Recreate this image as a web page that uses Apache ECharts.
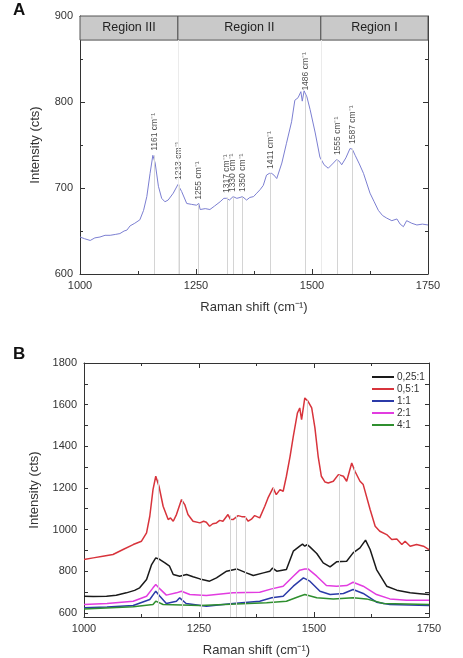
<!DOCTYPE html>
<html>
<head>
<meta charset="utf-8">
<title>Raman spectra</title>
<script src="https://cdn.jsdelivr.net/npm/echarts@6/dist/echarts.min.js"></script>
<style>
  html, body { margin: 0; padding: 0; background: #fff; }
  #chart { width: 463px; height: 658px; }
</style>
</head>
<body>
<div id="chart"></div>
<script>
// panel A: single spectrum [shift, intensity]
const spectrumA = [[1000,643],[1010,641],[1022,639],[1032,642],[1043,643],[1054,645],[1065,645],[1076,646],[1086,647],[1095,650],[1101,651],[1108,656],[1118,659],[1129,663],[1137,674],[1144,690],[1151,717],[1157,738],[1162,729],[1169,702],[1176,688],[1183,684],[1190,686],[1194,685],[1201,694],[1211,704],[1219,696],[1230,682],[1240,681],[1251,680],[1256,682],[1259,675],[1270,676],[1280,675],[1290,679],[1302,684],[1310,688],[1316,688],[1322,686],[1330,690],[1338,688],[1345,689],[1350,690],[1359,686],[1366,689],[1374,690],[1381,694],[1388,698],[1395,703],[1402,715],[1408,717],[1413,717],[1418,715],[1424,711],[1435,729],[1445,752],[1456,777],[1463,802],[1470,805],[1476,812],[1479,801],[1483,813],[1489,806],[1496,791],[1507,764],[1517,736],[1526,727],[1535,723],[1546,729],[1553,733],[1559,731],[1564,727],[1573,735],[1582,746],[1587,745],[1593,738],[1602,728],[1611,717],[1625,694],[1634,684],[1643,674],[1652,668],[1661,665],[1672,662],[1683,664],[1690,658],[1697,655],[1704,662],[1715,659],[1726,657],[1738,658],[1750,657]];

// peak positions and where their marker lines end
const peaks = [1161, 1213, 1255, 1317, 1330, 1350, 1411, 1486, 1555, 1587];
const peakTopA = [738, 704, 681, 689, 690, 690, 717, 808, 733, 746];
const peakTopB = [1240, 1144, 1032, 1068, 1066, 1061, 1200, 1620, 1262, 1300];

const regionNames = ['Region III', 'Region II', 'Region I'];
const regionEdges = [1000, 1211, 1519, 1750];
const regionBand = [872, 900];

// panel B: five ratios
const ratioNames = ['0,25:1', '0,5:1', '1:1', '2:1', '4:1'];
const ratioColors = ['#1a1a1a', '#d8343c', '#2b3aa8', '#e23ce0', '#2f8f2f'];
const r025 = [[1000,680],[1020,678],[1049,680],[1070,684],[1092,696],[1110,708],[1121,720],[1136,760],[1147,832],[1156,864],[1165,856],[1176,840],[1186,824],[1194,784],[1208,776],[1223,784],[1237,773],[1252,763],[1273,752],[1288,768],[1310,800],[1332,811],[1353,792],[1368,779],[1390,792],[1404,800],[1410,815],[1419,800],[1440,808],[1455,896],[1469,920],[1475,930],[1480,920],[1485,928],[1491,917],[1506,885],[1520,840],[1535,821],[1549,845],[1571,848],[1585,888],[1600,912],[1612,949],[1622,904],[1636,808],[1658,728],[1680,709],[1709,696],[1730,692],[1750,688]];
const r05 = [[1000,856],[1020,864],[1041,872],[1063,880],[1085,904],[1107,928],[1125,944],[1136,984],[1143,1064],[1150,1192],[1156,1256],[1163,1208],[1172,1112],[1183,1048],[1188,1056],[1194,1040],[1201,1072],[1212,1144],[1219,1120],[1226,1072],[1237,1040],[1252,1032],[1260,1040],[1266,1035],[1273,1016],[1280,1028],[1288,1032],[1295,1044],[1302,1040],[1313,1072],[1318,1050],[1324,1048],[1335,1067],[1343,1062],[1350,1061],[1357,1040],[1364,1050],[1371,1067],[1382,1056],[1393,1112],[1400,1152],[1411,1200],[1418,1168],[1426,1192],[1433,1184],[1440,1256],[1448,1352],[1455,1448],[1464,1560],[1469,1584],[1473,1528],[1480,1632],[1487,1616],[1495,1584],[1502,1488],[1509,1352],[1516,1256],[1524,1228],[1531,1224],[1542,1232],[1553,1264],[1564,1256],[1571,1232],[1582,1320],[1589,1280],[1600,1232],[1607,1216],[1611,1216],[1622,1096],[1633,1016],[1643,992],[1658,976],[1669,952],[1680,955],[1691,928],[1698,944],[1709,920],[1723,928],[1738,920],[1750,904]];
const r1 = [[1000,624],[1050,628],[1107,635],[1143,664],[1156,704],[1165,680],[1179,645],[1201,656],[1208,672],[1222,645],[1266,632],[1324,645],[1382,656],[1408,672],[1433,680],[1455,728],[1477,768],[1491,752],[1513,704],[1535,688],[1564,693],[1585,712],[1607,693],[1636,651],[1665,640],[1750,635]];
const r2 = [[1000,640],[1050,645],[1107,656],[1136,680],[1150,720],[1156,736],[1165,715],[1179,685],[1201,696],[1212,704],[1230,688],[1266,683],[1324,696],[1382,699],[1408,715],[1433,728],[1455,776],[1469,805],[1480,811],[1487,811],[1506,776],[1527,731],[1549,728],[1571,731],[1585,747],[1607,728],[1636,688],[1665,667],[1701,661],[1750,661]];
const r4 = [[1000,619],[1107,629],[1150,640],[1156,656],[1172,640],[1252,635],[1397,648],[1440,656],[1469,680],[1480,688],[1506,672],[1542,667],[1585,672],[1614,667],[1651,645],[1750,640]];
const ratioData = [r025, r05, r1, r2, r4];

const yRangeB = [580, 1800];
const yLabelsB = [600, 800, 1000, 1200, 1400, 1600, 1800];
const yTicksB = [600, 700, 800, 900, 1000, 1100, 1200, 1300, 1400, 1500, 1600, 1700, 1800];

const font = 'Arial, "Liberation Sans", sans-serif';
const axisColor = '#333';
const plain = v => String(v);

function xAxis(grid, pos, labels, name) {
  return {
    type: 'value', gridIndex: grid, position: pos,
    min: 1000, max: 1750, interval: 250,
    name: name, nameLocation: 'middle', nameGap: 27,
    nameTextStyle: { fontFamily: font, fontSize: 13, color: '#333' },
    axisLine: { show: true, onZero: false, lineStyle: { color: axisColor } },
    axisTick: { show: true, inside: true, length: 5, lineStyle: { color: axisColor } },
    minorTick: { show: true, splitNumber: 2, length: 3, lineStyle: { color: axisColor } },
    axisLabel: { show: labels, formatter: plain, fontFamily: font, fontSize: 11, color: '#333', margin: 6 },
    splitLine: { show: false }
  };
}

const peakLineStyle = { color: '#d4d4d4', width: 1, type: 'solid' };

const option = {
  animation: false,
  backgroundColor: '#fff',
  title: [
    { text: 'A', left: 8, top: -3, textStyle: { fontFamily: font, fontSize: 17, fontWeight: 'bold', color: '#111' } },
    { text: 'B', left: 8, top: 341, textStyle: { fontFamily: font, fontSize: 17, fontWeight: 'bold', color: '#111' } }
  ],
  grid: [
    { left: 80, right: 35, top: 16, height: 258 },
    { left: 84, right: 34, top: 363, height: 254 }
  ],
  legend: {
    data: ratioNames, orient: 'vertical', left: 367, top: 366,
    icon: 'rect', itemWidth: 22, itemHeight: 2, itemGap: 0,
    textStyle: { fontFamily: font, fontSize: 10, color: '#333', lineHeight: 12, padding: [0, 0, 0, -2] }
  },
  xAxis: [
    xAxis(0, 'bottom', true, 'Raman shift (cm⁻¹)'),
    xAxis(0, 'top', false, ''),
    xAxis(1, 'bottom', true, 'Raman shift (cm⁻¹)'),
    xAxis(1, 'top', false, '')
  ],
  yAxis: [
    {
      type: 'value', gridIndex: 0, position: 'left', min: 600, max: 900, interval: 100,
      name: 'Intensity (cts)', nameLocation: 'middle', nameGap: 38,
      nameTextStyle: { fontFamily: font, fontSize: 13, color: '#333' },
      axisLine: { show: true, lineStyle: { color: axisColor } },
      axisTick: { show: true, inside: true, length: 5, lineStyle: { color: axisColor } },
      minorTick: { show: true, splitNumber: 2, length: 3, lineStyle: { color: axisColor } },
      axisLabel: { formatter: plain, fontFamily: font, fontSize: 11, color: '#333', margin: 7 },
      splitLine: { show: false }
    },
    {
      type: 'value', gridIndex: 0, position: 'right', min: 600, max: 900, interval: 100,
      axisLine: { show: true, lineStyle: { color: axisColor } },
      axisTick: { show: true, inside: true, length: 5, lineStyle: { color: axisColor } },
      minorTick: { show: true, splitNumber: 2, length: 3, lineStyle: { color: axisColor } },
      axisLabel: { show: false },
      splitLine: { show: false }
    },
    {
      type: 'value', gridIndex: 1, position: 'left', min: yRangeB[0], max: yRangeB[1],
      name: 'Intensity (cts)', nameLocation: 'middle', nameGap: 43,
      nameTextStyle: { fontFamily: font, fontSize: 13, color: '#333' },
      axisLine: { show: true, lineStyle: { color: axisColor } },
      axisTick: { show: true, inside: true, length: 4, customValues: yTicksB, lineStyle: { color: axisColor } },
      axisLabel: { formatter: plain, fontFamily: font, fontSize: 11, color: '#333', margin: 7, customValues: yLabelsB },
      splitLine: { show: false }
    },
    {
      type: 'value', gridIndex: 1, position: 'right', min: yRangeB[0], max: yRangeB[1],
      axisLine: { show: true, lineStyle: { color: axisColor } },
      axisTick: { show: true, inside: true, length: 4, customValues: yTicksB, lineStyle: { color: axisColor } },
      axisLabel: { show: false, customValues: yLabelsB },
      splitLine: { show: false }
    }
  ],
  series: []
};

// panel A spectrum with region header and peak lines
option.series.push({
  type: 'line', xAxisIndex: 0, yAxisIndex: 0,
  data: spectrumA, showSymbol: false,
  lineStyle: { color: '#7c7fd2', width: 1 },
  markArea: {
    silent: true,
    itemStyle: { color: '#c9c9c9', borderColor: '#555', borderWidth: 1 },
    label: { show: true, position: 'inside', fontFamily: font, fontSize: 12.5, color: '#222' },
    data: regionNames.map((n, i) => [
      { name: n, xAxis: regionEdges[i], yAxis: regionBand[0] },
      { xAxis: regionEdges[i + 1], yAxis: regionBand[1] }
    ])
  },
  markLine: {
    silent: true, symbol: 'none', label: { show: false },
    lineStyle: peakLineStyle,
    data: peaks.map((p, i) => [{ coord: [p, 600] }, { coord: [p, peakTopA[i]] }])
      .concat(regionEdges.slice(1, 3).map(e => [
        { coord: [e, 600], lineStyle: { color: '#ebebeb' } },
        { coord: [e, regionBand[0]] }
      ]))
  }
});

// peak labels for A
option.series.push({
  type: 'scatter', xAxisIndex: 0, yAxisIndex: 0,
  symbolSize: 1, itemStyle: { color: 'rgba(0,0,0,0)' }, silent: true,
  data: peaks.map((p, i) => ({ value: [p, peakTopA[i]], name: p + ' cm⁻¹' })),
  label: {
    show: true, position: 'top', distance: 4, rotate: 90,
    align: 'left', verticalAlign: 'middle',
    formatter: '{b}', fontFamily: font, fontSize: 8.5, color: '#222'
  }
});

// panel B series
ratioNames.forEach((n, i) => {
  option.series.push({
    name: n, type: 'line', xAxisIndex: 2, yAxisIndex: 2,
    data: ratioData[i], showSymbol: false, z: 3,
    itemStyle: { color: ratioColors[i] },
    lineStyle: { color: ratioColors[i], width: 1.5 }
  });
});

// peak guide lines for B
option.series.push({
  type: 'line', xAxisIndex: 2, yAxisIndex: 2, data: [], z: 1,
  markLine: {
    silent: true, symbol: 'none', label: { show: false },
    lineStyle: peakLineStyle,
    data: peaks.map((p, i) => [{ coord: [p, yRangeB[0]] }, { coord: [p, peakTopB[i]] }])
  }
});

echarts.init(document.getElementById('chart')).setOption(option);
</script>
</body>
</html>
